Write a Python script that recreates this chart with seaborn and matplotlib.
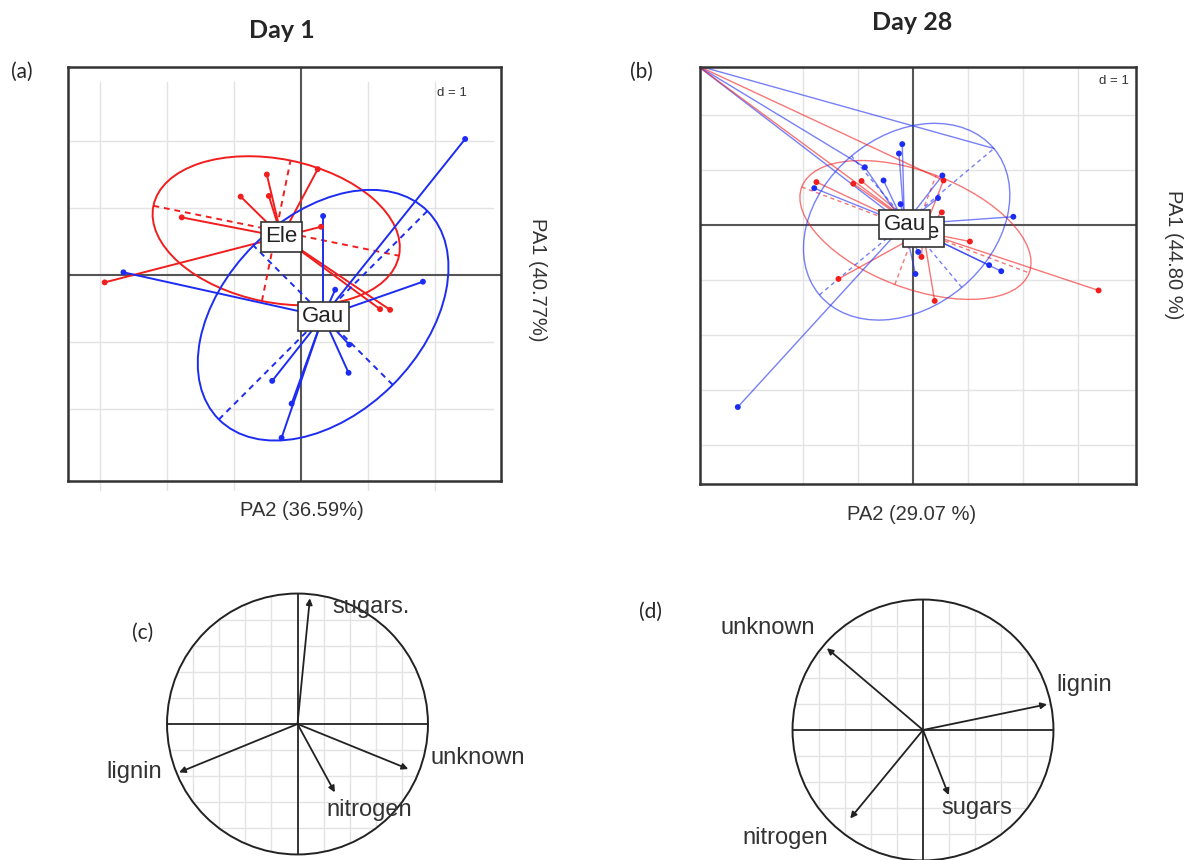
import numpy as np
import pandas as pd
import matplotlib
matplotlib.use("Agg")
import matplotlib.pyplot as plt
from matplotlib.patches import Ellipse, Circle
import seaborn as sns

sns.set_theme(style="white")
plt.rcParams["font.family"] = ["Liberation Sans", "DejaVu Sans"]

W, H = 1189, 860
RED = "#f21d1d"
BLUE = "#1d2cf2"

# ----------------------------------------------------------------------
# Day 1 sample scores (PA2 horizontal, PA1 vertical)
# ----------------------------------------------------------------------
d1_ele_x = [-2.93, -1.78, -0.90, -0.51, -0.48, 0.25, 0.30, 1.18, 1.33]
d1_ele_y = [-0.11, 0.86, 1.17, 1.50, 1.18, 1.58, 0.72, -0.51, -0.52]
d1_gau_x = [2.45, -2.65, 0.33, 1.82, 0.51, 0.72, 0.71, -0.43, -0.14, -0.29]
d1_gau_y = [2.03, 0.04, 0.88, -0.10, -0.22, -1.04, -1.46, -1.58, -1.92, -2.43]
d1_centre = {"Ele": (-0.29, 0.57), "Gau": (0.33, -0.62)}
# ellipse: centre x, centre y, semi-major, semi-minor, angle (deg)
d1_ellipse = {"Ele": (-0.37, 0.66, 1.87, 1.07, -11.5),
              "Gau": (0.33, -0.60, 2.20, 1.47, 45.0)}

# ----------------------------------------------------------------------
# Day 28 sample scores
# ----------------------------------------------------------------------
d28_ele_x = [-1.75, -1.08, -0.93, 0.56, 0.53, 1.04, 0.16, 0.40, -1.35, 3.38]
d28_ele_y = [0.78, 0.75, 0.80, 0.81, 0.23, -0.30, -0.58, -1.38, -0.98, -1.19]
d28_gau_x = [-3.18, -0.19, -0.25, -0.87, -0.53, -1.79, 0.54, 0.46, -0.22,
             1.83, 1.39, 1.61, 0.05, 0.10]
d28_gau_y = [-3.31, 1.47, 1.30, 1.05, 0.81, 0.67, 0.90, 0.49, 0.38,
             0.15, -0.73, -0.84, -0.89, -0.49]
d28_centre = {"Ele": (0.19, -0.13), "Gau": (-0.15, 0.01)}
d28_ellipse = {"Ele": (0.05, -0.09, 2.21, 1.06, -20.7),
               "Gau": (-0.11, 0.06, 2.07, 1.56, 40.0)}
# extreme sample sitting in the top-left corner
d28_corner = (-3.92, 2.90)
d28_corner_gau_x = [-0.87, 1.48]
d28_corner_gau_y = [1.05, 1.39]
d28_corner_ele_x = [0.56]
d28_corner_ele_y = [0.81]

# ----------------------------------------------------------------------
# Correlation circles (variable loadings)
# ----------------------------------------------------------------------
vars_c = ["sugars.", "lignin", "unknown", "nitrogen"]
load_c_x = [0.095, -0.908, 0.849, 0.286]
load_c_y = [0.964, -0.371, -0.345, -0.524]
vars_d = ["unknown", "lignin", "nitrogen", "sugars"]
load_d_x = [-0.737, 0.951, -0.558, 0.197]
load_d_y = [0.627, 0.197, -0.678, -0.499]


def fx(x):
    return x / W


def fy(y):
    return 1 - y / H


def class_panel(ax, xs, ys, centres, ellipses, lw, alpha, gx, gy, grid_span):
    ax.set_facecolor("white")
    # grid
    for g in gx:
        ax.plot([g, g], grid_span[1], color="#e3e3e3", lw=1.0, zorder=0, clip_on=False)
    for g in gy:
        ax.plot(grid_span[0], [g, g], color="#e3e3e3", lw=1.0, zorder=0)
    ax.axhline(0, color="#555555", lw=1.5, zorder=1)
    ax.axvline(0, color="#555555", lw=1.5, zorder=1)

    colors = {"Ele": RED, "Gau": BLUE}
    rows = []
    for grp in ["Ele", "Gau"]:
        cx, cy = centres[grp]
        for x, y in zip(xs[grp], ys[grp]):
            ax.plot([cx, x], [cy, y], color=colors[grp], lw=lw, alpha=alpha, zorder=2)
            rows.append({"x": x, "y": y, "group": grp})
        ex, ey, a, b, ang = ellipses[grp]
        ax.add_patch(Ellipse((ex, ey), 2 * a, 2 * b, angle=ang, fill=False,
                             ec=colors[grp], lw=lw, alpha=alpha, zorder=2))
        t = np.deg2rad(ang)
        ax.plot([ex - a * np.cos(t), ex + a * np.cos(t)],
                [ey - a * np.sin(t), ey + a * np.sin(t)],
                color=colors[grp], lw=lw, alpha=alpha, ls=(0, (3, 2.5)), zorder=2)
        ax.plot([ex + b * np.sin(t), ex - b * np.sin(t)],
                [ey - b * np.cos(t), ey + b * np.cos(t)],
                color=colors[grp], lw=lw, alpha=alpha, ls=(0, (3, 2.5)), zorder=2)
    df = pd.DataFrame(rows)
    sns.scatterplot(data=df, x="x", y="y", hue="group", palette=colors, s=18,
                    linewidth=0, legend=False, ax=ax, zorder=4)
    for grp, z in [("Ele", 5), ("Gau", 6)]:
        cx, cy = centres[grp]
        ax.text(cx, cy, grp, ha="center", va="center", fontsize=16, color="#222222",
                zorder=z, bbox=dict(boxstyle="square,pad=0.2", fc="white",
                                    ec="#333333", lw=1.2))
    ax.set_xlabel("")
    ax.set_ylabel("")
    ax.set_xticks([])
    ax.set_yticks([])
    for s in ax.spines.values():
        s.set_color("#333333")
        s.set_linewidth(1.8)


def circle_panel(ax, names, lx, ly, label_pos):
    ax.set_xlim(-1.1, 1.1)
    ax.set_ylim(-1.1, 1.1)
    ax.set_aspect("equal")
    ax.axis("off")
    circ = Circle((0, 0), 1, fill=False, ec="#222222", lw=1.4, zorder=3)
    ax.add_patch(circ)
    for g in np.arange(-0.8, 0.81, 0.2):
        if abs(g) < 1e-6:
            continue
        l1, = ax.plot([g, g], [-1, 1], color="#e3e3e3", lw=1.0, zorder=0)
        l2, = ax.plot([-1, 1], [g, g], color="#e3e3e3", lw=1.0, zorder=0)
        l1.set_clip_path(circ)
        l2.set_clip_path(circ)
    ax.plot([-1, 1], [0, 0], color="#333333", lw=1.4, zorder=1)
    ax.plot([0, 0], [-1, 1], color="#333333", lw=1.4, zorder=1)
    for name, x, y in zip(names, lx, ly):
        ax.annotate("", xy=(x, y), xytext=(0, 0),
                    arrowprops=dict(arrowstyle="-|>", color="#222222", lw=1.3,
                                    mutation_scale=9, shrinkA=0, shrinkB=0), zorder=4)
        tx, ty, ha = label_pos[name]
        ax.text(tx, ty, name, ha=ha, va="center", fontsize=17, color="#333333",
                clip_on=False, zorder=5)


fig = plt.figure(figsize=(W / 100, H / 100), dpi=100)

# (a) Day 1
ax_a = fig.add_axes([fx(68), fy(481), 433 / W, 414 / H])
ax_a.set_xlim((68 - 301) / 67, (501 - 301) / 67)
ax_a.set_ylim((275 - 481) / 67, (275 - 67) / 67)
class_panel(ax_a, {"Ele": d1_ele_x, "Gau": d1_gau_x}, {"Ele": d1_ele_y, "Gau": d1_gau_y},
            d1_centre, d1_ellipse, 1.4, 1.0,
            [-3, -2, -1, 1, 2], [-2, -1, 1, 2],
            ([-3.6, 2.87], [-3.21, 2.88]))
ax_a.text(2.25, 2.72, "d = 1", ha="center", va="center", fontsize=9.5, color="#333333")

# (b) Day 28
ax_b = fig.add_axes([fx(700), fy(484), 436 / W, 416.5 / H])
ax_b.set_xlim((700 - 912.7) / 55, (1136 - 912.7) / 55)
ax_b.set_ylim((225 - 484) / 55, (225 - 67.5) / 55)
class_panel(ax_b, {"Ele": d28_ele_x, "Gau": d28_gau_x}, {"Ele": d28_ele_y, "Gau": d28_gau_y},
            d28_centre, d28_ellipse, 1.0, 0.6,
            [-2, -1, 1, 2, 3], [-4, -3, -2, -1, 1, 2],
            ([-3.87, 4.06], [-4.71, 2.864]))
cx0, cy0 = d28_corner
for grp, tx, ty, col in [("Gau", d28_corner_gau_x, d28_corner_gau_y, BLUE),
                         ("Ele", d28_corner_ele_x, d28_corner_ele_y, RED)]:
    px_, py_ = d28_centre[grp]
    for x, y in zip([px_] + tx, [py_] + ty):
        ax_b.plot([cx0, x], [cy0, y], color=col, lw=1.0, alpha=0.6, zorder=2)
ax_b.text(3.66, 2.62, "d = 1", ha="center", va="center", fontsize=9.5, color="#333333")

# (c) and (d) correlation circles
ax_c = fig.add_axes([fx(297.5 - 143.5), fy(724 + 143.5), 287 / W, 287 / H])
circle_panel(ax_c, vars_c, load_c_x, load_c_y,
             {"sugars.": (0.27, 0.90, "left"), "unknown": (1.02, -0.26, "left"),
              "nitrogen": (0.22, -0.66, "left"), "lignin": (-1.04, -0.37, "right")})
ax_d = fig.add_axes([fx(923 - 143.5), fy(730 + 143.5), 287 / W, 287 / H])
circle_panel(ax_d, vars_d, load_d_x, load_d_y,
             {"unknown": (-0.83, 0.78, "right"), "lignin": (1.02, 0.345, "left"),
              "sugars": (0.14, -0.60, "left"), "nitrogen": (-0.73, -0.83, "right")})

# titles, panel letters, axis labels
title_font = ["Lato", "DejaVu Sans"]
fig.text(fx(282), fy(30), "Day 1", ha="center", va="center", fontsize=18,
         fontweight="bold", family=title_font)
fig.text(fx(912), fy(22), "Day 28", ha="center", va="center", fontsize=18,
         fontweight="bold", family=title_font)
for lab, x, y in [("(a)", 22, 72), ("(b)", 641, 72), ("(c)", 143, 633), ("(d)", 651, 612)]:
    fig.text(fx(x), fy(y), lab, ha="center", va="center", fontsize=15, family=title_font)
fig.text(fx(302), fy(511), "PA2 (36.59%)", ha="center", va="center", fontsize=14.5,
         color="#333333")
fig.text(fx(912), fy(514), "PA2 (29.07 %)", ha="center", va="center", fontsize=14.5,
         color="#333333")
fig.text(fx(537), fy(280), "PA1 (40.77%)", ha="center", va="center", fontsize=14.5,
         rotation=270, color="#333333")
fig.text(fx(1173), fy(255), "PA1 (44.80 %)", ha="center", va="center", fontsize=14.5,
         rotation=270, color="#333333")

fig.savefig("out.png", dpi=100)
